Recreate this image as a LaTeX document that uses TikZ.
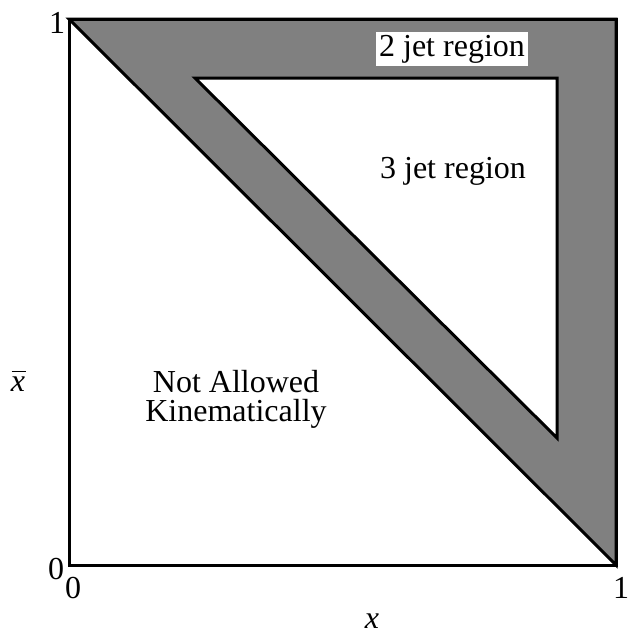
\documentclass[tikz,border=0pt]{standalone}
\usepackage{fontspec}
\setmainfont{Liberation Serif}
\usetikzlibrary{positioning}
\definecolor{bandGray}{HTML}{808080}

\begin{document}
\begin{tikzpicture}[
  x=1pt,y=-1pt,
  line join=miter,
  frame/.style={line width=3pt,black},
  band/.style={fill=bandGray,draw=black,line width=3pt},
  lbl/.style={font=\fontsize{32}{29}\selectfont,inner sep=0pt,align=center},
  tick/.style={font=\fontsize{32}{32}\selectfont,inner sep=0pt}
]
  \useasboundingbox (0,0) rectangle (629,637);
  % corners of the plot
  \coordinate (o) at (69,565);
  \coordinate (tl) at (69,19);
  \coordinate (tr) at (616,19);
  \coordinate (br) at (616,565);

  \draw[band] (tl) -- (tr) -- (br) -- cycle;
  \draw[frame,fill=white] (195,78) -- (557,78) -- (557,438) -- cycle;
  \draw[frame] (o) rectangle (tr);

  \node[lbl,fill=white,inner xsep=3pt,inner ysep=3pt] (twojet) at (452,49) {2 jet region};
  \node[lbl] (threejet) at (453,171) {3 jet region};
  \node[lbl] (notallowed) at (236,399) {Not Allowed\\Kinematically};

  \node[tick] (ytop) at (57,23) {1};
  \node[tick] (ybot) at (56,569) {0};
  \node[tick] (xleft) at (73,588) {0};
  \node[tick] (xright) at (621,588) {1};
  \node[tick] (xlab) at (372,621) {\itshape x};
  \node[tick] (ylab) at (18,384) {\itshape x};
  % bar over the vertical axis label
  \draw[line width=1.5pt] ([xshift=1pt,yshift=5pt]ylab.north west) -- ([xshift=1pt,yshift=5pt]ylab.north east);
\end{tikzpicture}
\end{document}
